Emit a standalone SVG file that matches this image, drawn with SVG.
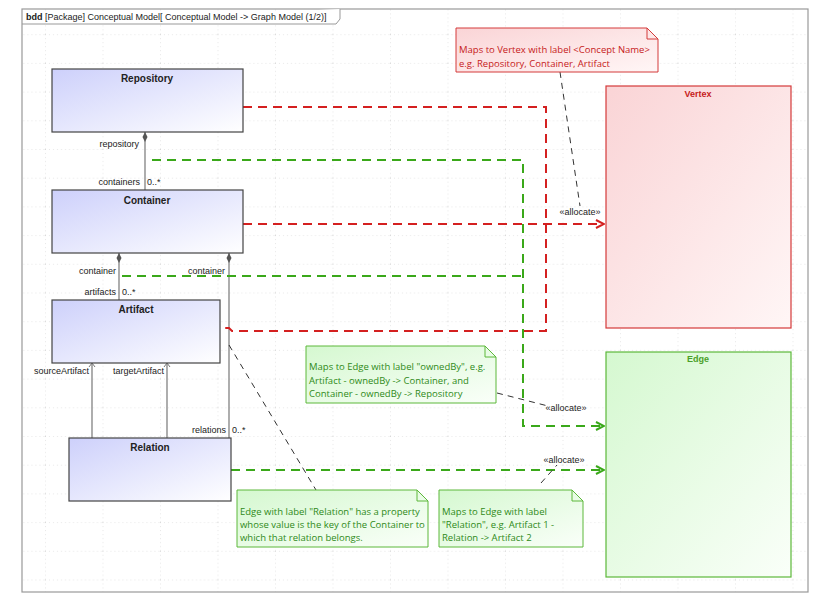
<svg xmlns="http://www.w3.org/2000/svg" width="832" height="604" viewBox="0 0 832 604">
<style>
text{font-family:"Liberation Sans",Arial,sans-serif;font-size:9px;fill:#222}
.ttl{font-weight:bold;font-size:10px;text-anchor:middle}
.blk{stroke:#444;stroke-width:1.2;fill:url(#gb)}
.note{font-family:"Open Sans","Noto Sans",sans-serif;font-size:9.5px}
.red{stroke:#d42020;stroke-width:2;fill:none;stroke-dasharray:9,6}
.grn{stroke:#3aa81a;stroke-width:2;fill:none;stroke-dasharray:9,6}
.blkd{stroke:#333;stroke-width:1;fill:none;stroke-dasharray:6,5}
.comp{stroke:#777;stroke-width:1.2;fill:none}
.dia{fill:#555}
</style>
<defs>
<linearGradient id="gb" x1="0" y1="0" x2="1" y2="1"><stop offset="0" stop-color="#cdd0fb"/><stop offset="1" stop-color="#ffffff"/></linearGradient>
<linearGradient id="gr" x1="0" y1="0" x2="1" y2="1"><stop offset="0" stop-color="#fad4d6"/><stop offset="1" stop-color="#fff6f6"/></linearGradient>
<linearGradient id="gg" x1="0" y1="0" x2="1" y2="1"><stop offset="0" stop-color="#d5f8d0"/><stop offset="1" stop-color="#fafff9"/></linearGradient>
<pattern id="grid" width="57.5" height="28.7" patternUnits="userSpaceOnUse" x="45" y="5.5">
<path d="M0 0V28.7M0 0H57.5" stroke="#bbb" stroke-width="0.7" stroke-dasharray="1,3" fill="none"/>
</pattern>
<marker id="ar" markerWidth="10" markerHeight="10" refX="9" refY="5" orient="auto" markerUnits="userSpaceOnUse"><path d="M1 1L9 5L1 9" fill="none" stroke="#d42020" stroke-width="2"/></marker>
<marker id="ag" markerWidth="10" markerHeight="10" refX="9" refY="5" orient="auto" markerUnits="userSpaceOnUse"><path d="M1 1L9 5L1 9" fill="none" stroke="#3aa81a" stroke-width="2"/></marker>
<marker id="oa" markerWidth="8" markerHeight="8" refX="4" refY="1" markerUnits="userSpaceOnUse"><path d="M1 5L4 1L7 5" fill="none" stroke="#777"/></marker>
</defs>
<rect width="832" height="604" fill="#fff"/>
<rect x="22" y="9" width="786" height="583" fill="url(#grid)" stroke="#999" stroke-width="1.2"/>
<path d="M22 24H336L340 19V9" fill="#fff" stroke="#999"/>
<text x="26" y="20"><tspan font-weight="bold">bdd</tspan> [Package] Conceptual Model[ Conceptual Model -&gt; Graph Model (1/2)]</text>

<g id="connectors">
<path class="comp" d="M145 132V190"/><path class="dia" d="M145 132L147.5 137L145 142L142.5 137Z"/>
<path class="comp" d="M119 253V300"/><path class="dia" d="M119 253L121.5 258L119 263L116.5 258Z"/>
<path class="comp" d="M229 253V438"/><path class="dia" d="M229 253L231.5 258L229 263L226.5 258Z"/>
<path class="comp" d="M92 438V363" marker-end="url(#oa)"/>
<path class="comp" d="M167 438V363" marker-end="url(#oa)"/>
<path class="red" d="M243 107H546V331H232L229 328H220"/>
<path class="red" d="M243 224H604" marker-end="url(#ar)"/>
<path class="grn" d="M152 160H523V426H604" marker-end="url(#ag)"/>
<path class="grn" d="M122 276H523"/>
<path class="grn" d="M231 470H604" marker-end="url(#ag)"/>
<path class="blkd" d="M560 72L580 206"/>
<path class="blkd" d="M497 393L548 406"/>
<path class="blkd" d="M229 345L316 490"/>
<path class="blkd" d="M541 483L557 465"/>
<text x="580" y="215" text-anchor="middle">«allocate»</text>
<text x="566" y="411" text-anchor="middle">«allocate»</text>
<text x="564" y="463" text-anchor="middle">«allocate»</text>
<text x="139" y="147" text-anchor="end">repository</text>
<text x="140" y="185" text-anchor="end">containers</text><text x="147" y="185">0..*</text>
<text x="116" y="274" text-anchor="end">container</text>
<text x="225" y="274" text-anchor="end">container</text>
<text x="116" y="295" text-anchor="end">artifacts</text><text x="122" y="295">0..*</text>
<text x="89" y="374" text-anchor="end">sourceArtifact</text>
<text x="164" y="374" text-anchor="end">targetArtifact</text>
<text x="226" y="433" text-anchor="end">relations</text><text x="232" y="433">0..*</text>
</g>

<g id="repository"><rect class="blk" x="52" y="69" width="191" height="63"/><text class="ttl" x="147" y="82">Repository</text></g>
<g id="container"><rect class="blk" x="52" y="190" width="191" height="63"/><text class="ttl" x="147" y="204">Container</text></g>
<g id="artifact"><rect class="blk" x="52" y="300" width="168" height="63"/><text class="ttl" x="136" y="313">Artifact</text></g>
<g id="relation"><rect class="blk" x="69" y="438" width="162" height="63"/><text class="ttl" x="150" y="451">Relation</text></g>

<g id="vertex"><rect x="606" y="86" width="185" height="242" fill="url(#gr)" stroke="#d43a3a" stroke-width="1.2"/><text class="ttl" x="698" y="97" style="fill:#c62020;font-size:9px">Vertex</text></g>
<g id="edge"><rect x="606" y="352" width="185" height="225" fill="url(#gg)" stroke="#5cb83a" stroke-width="1.2"/><text class="ttl" x="698" y="362" style="fill:#4aa028;font-size:9px">Edge</text></g>

<g id="note-vertex"><path d="M456 28H647L658 39V72H456Z" fill="url(#gr)" stroke="#d43a3a"/><path d="M647 28V39H658" fill="none" stroke="#d43a3a"/>
<text class="note" x="459" y="53" style="fill:#c62020">Maps to Vertex with label &lt;Concept Name&gt;</text><text class="note" x="459" y="67" style="fill:#c62020">e.g. Repository, Container, Artifact</text></g>
<g id="note-ownedby"><path d="M306 346H485L496 357V403H306Z" fill="url(#gg)" stroke="#5cb83a"/><path d="M485 346V357H496" fill="none" stroke="#5cb83a"/>
<text class="note" x="309" y="370" style="fill:#2e8a18">Maps to Edge with label "ownedBy", e.g.</text><text class="note" x="309" y="384" style="fill:#2e8a18">Artifact - ownedBy -&gt; Container, and</text><text class="note" x="309" y="397" style="fill:#2e8a18">Container - ownedBy -&gt; Repository</text></g>
<g id="note-relprop"><path d="M237 490H417L428 501V547H237Z" fill="url(#gg)" stroke="#5cb83a"/><path d="M417 490V501H428" fill="none" stroke="#5cb83a"/>
<text class="note" x="240" y="515" style="fill:#2e8a18">Edge with label "Relation" has a property</text><text class="note" x="240" y="528" style="fill:#2e8a18">whose value is the key of the Container to</text><text class="note" x="240" y="541" style="fill:#2e8a18">which that relation belongs.</text></g>
<g id="note-relation"><path d="M439 490H572L583 501V547H439Z" fill="url(#gg)" stroke="#5cb83a"/><path d="M572 490V501H583" fill="none" stroke="#5cb83a"/>
<text class="note" x="442" y="515" style="fill:#2e8a18">Maps to Edge with label</text><text class="note" x="442" y="528" style="fill:#2e8a18">"Relation", e.g. Artifact 1 -</text><text class="note" x="442" y="541" style="fill:#2e8a18">Relation -&gt; Artifact 2</text></g>
</svg>
